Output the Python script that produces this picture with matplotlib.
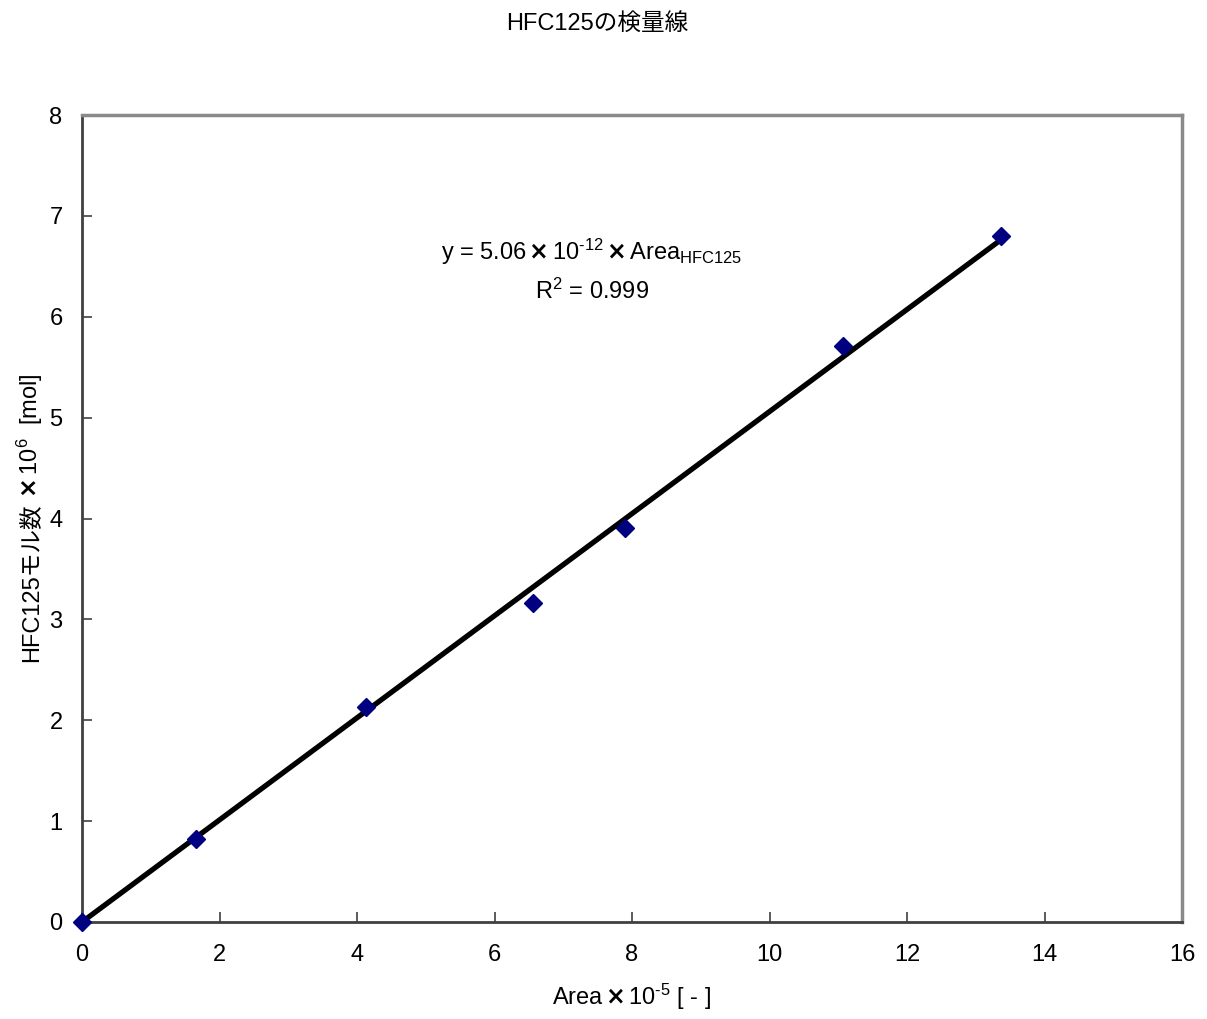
import matplotlib
matplotlib.use("Agg")
import matplotlib.pyplot as plt
import numpy as np

plt.rcParams['font.family'] = ['Liberation Sans', 'Noto Sans CJK JP', 'DejaVu Sans']
plt.rcParams['mathtext.fontset'] = 'custom'
plt.rcParams['mathtext.rm'] = 'Liberation Sans'
plt.rcParams['mathtext.it'] = 'Liberation Sans:italic'
plt.rcParams['mathtext.default'] = 'regular'

# calibration data: peak area (x 1e-5) vs HFC125 moles (x 1e6)
area = [0.0, 1.66, 4.13, 6.56, 7.90, 11.07, 13.37]
moles = [0.0, 0.82, 2.13, 3.16, 3.91, 5.71, 6.80]
slope = 0.506      # 5.06e-12 mol per area count, in plotted units
r2 = 0.999

FS = 17

fig = plt.figure(figsize=(12.07, 10.19), dpi=100)
ax = fig.add_axes([82/1207, 97/1019, 1100/1207, 807/1019])

xfit = np.array([0.0, max(area)])
ax.plot(xfit, slope * xfit, color='black', lw=3.8, solid_capstyle='butt', zorder=2)
ax.plot(area, moles, 'D', color='#000080', ms=9.5, mec='#000080', zorder=3, clip_on=False)

ax.set_xlim(0, 16)
ax.set_ylim(0, 8)
ax.set_xticks(range(0, 17, 2))
ax.set_yticks(range(0, 9))
ax.tick_params(direction='in', length=7, width=1.2, color='#404040', labelsize=FS)
ax.tick_params(axis='x', pad=16)
ax.tick_params(axis='y', pad=14)

for s in ['left', 'bottom']:
    ax.spines[s].set_color('#404040')
    ax.spines[s].set_linewidth(2)
for s in ['top', 'right']:
    ax.spines[s].set_color('#8a8a8a')
    ax.spines[s].set_linewidth(2.5)

ax.set_xlabel('Area$\\,\\mathbf{\\times}\\,$10$^{‐5}$ [ - ]', fontsize=FS, labelpad=11)

# y label in two pieces: the CJK part as plain text, the power of ten as mathtext
ykw = dict(rotation=90, rotation_mode='anchor', ha='left', va='baseline', fontsize=FS)
bx = 38 / 1207
yl1 = fig.text(bx, 0.3, 'HFC125モル数', **ykw)
yl2 = fig.text(bx, 0.5, '$\\;\\mathbf{\\times}\\,$10$^{6}$  [mol]', **ykw)
fig.canvas.draw()
r = fig.canvas.get_renderer()
h1 = yl1.get_window_extent(r).height / fig.bbox.height
h2 = yl2.get_window_extent(r).height / fig.bbox.height
y0 = (1 - 518 / 1019) - (h1 + h2) / 2
yl1.set_y(y0)
yl2.set_y(y0 + h1)

ax.text(7.42, 6.64, 'y = 5.06$\\,\\mathbf{\\times}\\,$10$^{‐12}$$\\,\\mathbf{\\times}\\,$Area$_{\\mathrm{HFC125}}$',
        ha='center', va='center', fontsize=FS)
ax.text(7.42, 6.25, f'R$^{{2}}$ = {r2}', ha='center', va='center', fontsize=FS)

fig.suptitle('HFC125の検量線', x=597/1207, y=1 - 25/1019, va='center', fontsize=FS)

fig.savefig('out.png', dpi=100)
